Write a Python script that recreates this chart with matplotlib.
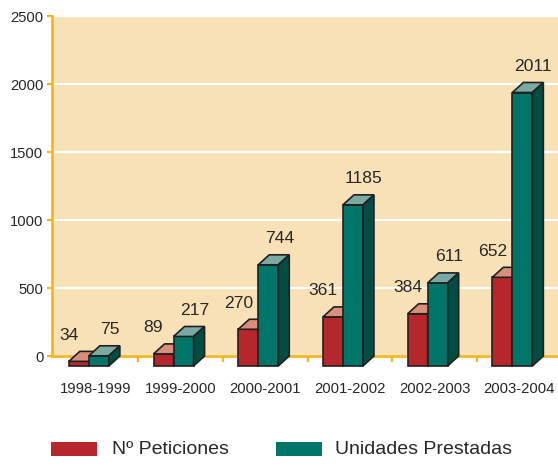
import matplotlib
matplotlib.use("Agg")
import matplotlib.pyplot as plt
from matplotlib.patches import Polygon, Rectangle

# Data
periods = ["1998-1999", "1999-2000", "2000-2001", "2001-2002", "2002-2003", "2003-2004"]
peticiones = [34, 89, 270, 361, 384, 652]
prestadas = [75, 217, 744, 1185, 611, 2011]
series_names = ["Nº Peticiones", "Unidades Prestadas"]

plt.rcParams["font.family"] = ["Liberation Sans", "DejaVu Sans"]

W, H = 558, 466
fig = plt.figure(figsize=(W / 100, H / 100), dpi=100)
fig.patch.set_facecolor("white")

# axes box in pixels
ax_left, ax_bottom, ax_w, ax_h = 52, 110, 506, 340
ax = fig.add_axes([ax_left / W, ax_bottom / H, ax_w / W, ax_h / H])

px_per_cat = 84.7
x0 = -1.5 / px_per_cat
ax.set_xlim(x0, x0 + ax_w / px_per_cat)
ax.set_ylim(0, 2500)
px_per_val = ax_h / 2500.0

tan = "#f8e1b6"
orange = "#f3b41c"
ink = "#2a2627"
edge = "#231f20"

ax.set_facecolor(tan)
for s in ("top", "right"):
    ax.spines[s].set_visible(False)
for s in ("left", "bottom"):
    ax.spines[s].set_color(orange)
    ax.spines[s].set_linewidth(1.9)
    ax.spines[s].set_zorder(2)

ax.set_yticks([0, 500, 1000, 1500, 2000, 2500])
ax.yaxis.grid(True, color="white", linewidth=1.5)
ax.set_axisbelow(True)
ax.tick_params(axis="y", colors=orange, length=3.8, width=1.6, pad=2.5,
               labelcolor=ink, labelsize=10.6)

centers = [i + 0.5 for i in range(len(periods))]
ax.set_xticks(centers)
ax.set_xticklabels(periods)
ax.set_xticks(list(range(1, len(periods))), minor=True)
ax.tick_params(axis="x", which="major", length=0, pad=18.5, labelcolor=ink, labelsize=10.7)
ax.tick_params(axis="x", which="minor", length=4, width=1.6, colors=orange)

# pseudo-3D bar geometry
bar_w = 20 / px_per_cat
dx = 11 / px_per_cat
dy = 10 / px_per_val
red_off = -27 / px_per_cat
green_off = -7 / px_per_cat

red_cols = ("#b5262d", "#d98f7c", "#7c1a1f")
green_cols = ("#00766a", "#79aba3", "#004d44")


def bar3d(left, value, cols, z):
    front, top, side = cols
    faces = [
        ([(left, -dy), (left + bar_w, -dy), (left + bar_w, value - dy), (left, value - dy)], front),
        ([(left, value - dy), (left + bar_w, value - dy), (left + bar_w + dx, value),
          (left + dx, value)], top),
        ([(left + bar_w, -dy), (left + bar_w + dx, 0), (left + bar_w + dx, value),
          (left + bar_w, value - dy)], side),
    ]
    for pts, fc in faces:
        ax.add_patch(Polygon(pts, closed=True, facecolor=fc, edgecolor=edge,
                             linewidth=1.2, joinstyle="miter", clip_on=False, zorder=z))


lab_gap = 16 / px_per_val
for i, c in enumerate(centers):
    rl = c + red_off
    gl = c + green_off
    bar3d(rl, peticiones[i], red_cols, 3 + i * 0.01)
    bar3d(gl, prestadas[i], green_cols, 3.005 + i * 0.01)
    ax.text(rl, peticiones[i] + lab_gap, str(peticiones[i]), ha="center", va="center",
            fontsize=12.6, color=ink, zorder=5)
    ax.text(gl + bar_w + 1 / px_per_cat, prestadas[i] + lab_gap, str(prestadas[i]),
            ha="center", va="center", fontsize=12.6, color=ink, zorder=5)

# legend
leg_y = (466 - 456) / H
leg_h = 14 / H
fig.add_artist(Rectangle((51 / W, leg_y), 46 / W, leg_h, transform=fig.transFigure,
                         facecolor=red_cols[0], edgecolor="none"))
fig.text(112 / W, (466 - 449) / H, series_names[0], ha="left", va="center",
         fontsize=14, color=ink)
fig.add_artist(Rectangle((276 / W, leg_y), 46 / W, leg_h, transform=fig.transFigure,
                         facecolor=green_cols[0], edgecolor="none"))
fig.text(335 / W, (466 - 449) / H, series_names[1], ha="left", va="center",
         fontsize=14, color=ink)

fig.savefig("out.png", dpi=100)
